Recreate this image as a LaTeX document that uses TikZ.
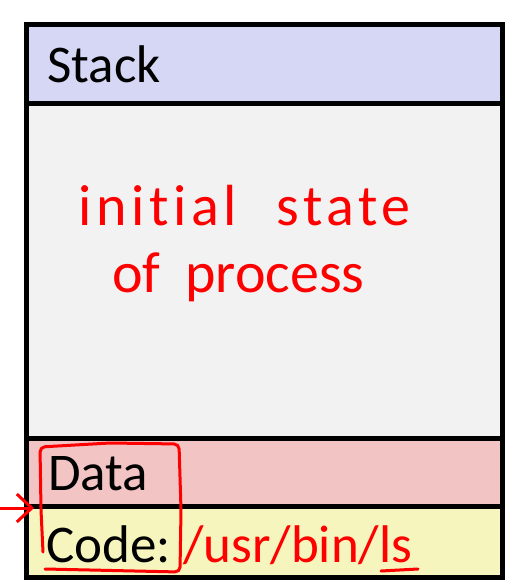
\documentclass[tikz,border=0pt]{standalone}
\usepackage{fontspec}
\setmainfont{Carlito}
\newfontfamily\notefont[Ligatures=NoCommon,LetterSpace=8]{Carlito}
\newfontfamily\notefonttight[Ligatures=NoCommon]{Carlito}
\usetikzlibrary{arrows.meta}
\definecolor{stackfill}{HTML}{D6D7F4}
\definecolor{freefill}{HTML}{F2F2F2}
\definecolor{datafill}{HTML}{F2C4C4}
\definecolor{codefill}{HTML}{F7F5BE}
\definecolor{inkred}{HTML}{FF0000}
\begin{document}
\begin{tikzpicture}[x=1pt,y=-1pt,
  border/.style={draw=black,line width=5pt},
  lbl/.style={anchor=base west,inner sep=0pt,font=\fontsize{53}{60}\selectfont},
  hand/.style={anchor=base west,inner sep=0pt,text=inkred},
  ink/.style={draw=inkred,line width=3pt,line cap=round,line join=round}]
\useasboundingbox (0,0) rectangle (508,580);
% memory regions
\fill[stackfill] (26.5,24.5) rectangle (502,104);
\fill[freefill]  (26.5,104)  rectangle (502,438);
\fill[datafill]  (26.5,438)  rectangle (502,506);
\fill[codefill]  (26.5,506)  rectangle (502,577.5);
\draw[border] (26.5,104) -- (502,104);
\draw[border] (26.5,438) -- (502,438);
\draw[border] (26.5,506) -- (502,506);
\draw[border] (26.5,24.5) rectangle (502,577.5);
% region labels
\node[lbl] (stacklbl) at (47,83) {Stack};
\node[lbl] (datalbl) at (48,490) {Data};
\node[lbl] (codelbl) at (46,562) {Code:};
\node[lbl,text=inkred] (pathlbl) at (183,562) {/usr/bin/ls};
% handwritten note
\node[hand,font=\notefont\fontsize{58}{66}\selectfont] (note1) at (78,225) {initial \hspace{22pt}state};
\node[hand,font=\notefonttight\fontsize{58}{66}\selectfont] (note2) at (112,292) {of \hspace{12pt}process};
% annotations
\coordinate (arrtail) at (0,508);
\coordinate (arrtip) at (34,508);
\draw[ink,-{Straight Barb[length=15pt,width=28pt,line width=3pt]}] (arrtail) -- (arrtip);
\draw[ink,rounded corners=5pt] (45,569) -- (180,572) -- (181,510) -- (179,444) -- (110,443) -- (40,447) -- (41,510) -- (43,552);
\coordinate (ulstart) at (381,571);
\coordinate (ulend) at (418,569);
\draw[ink] (ulstart) -- (ulend);
\end{tikzpicture}
\end{document}
